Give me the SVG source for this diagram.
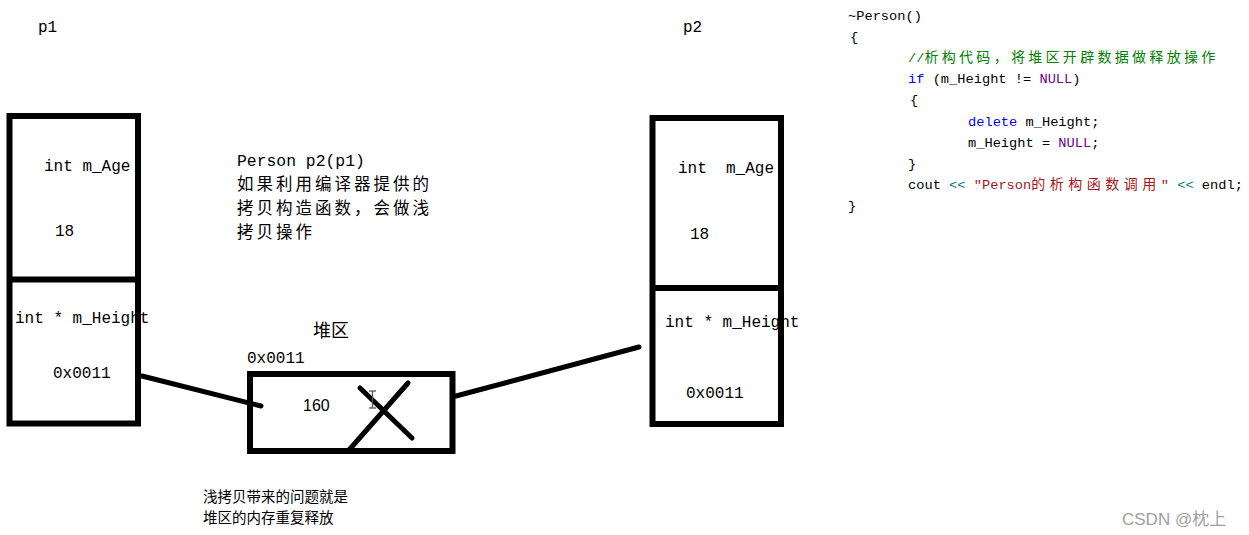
<svg xmlns="http://www.w3.org/2000/svg" width="1249" height="535" viewBox="0 0 1249 535">
<style>
.box{fill:none;stroke:#000;stroke-width:6}
.ln{stroke:#000;stroke-width:5;stroke-linecap:round;fill:none}
.mono{font-family:"Liberation Mono","DejaVu Sans Mono",monospace;font-size:16px;fill:#000;white-space:pre}
.cjk{font-family:"Noto Sans CJK SC",sans-serif;fill:#000}
.note{font-size:16.5px;letter-spacing:3px}
.code{font-family:"Liberation Mono","Noto Sans CJK SC",monospace;font-size:13.7px;fill:#000}
.cc{font-family:"Noto Sans CJK SC",sans-serif;font-size:14px;letter-spacing:3.3px}
.kw{fill:#0000ff}.nul{fill:#6f008a}.cm{fill:#008000}.op{fill:#008080}.str{fill:#a31515}
</style>
<rect width="1249" height="535" fill="#fff"/>
<g id="p1">
<text class="mono" x="38" y="32">p1</text>
<rect class="box" x="9.5" y="116" width="128.5" height="307.5"/>
<line class="box" x1="9.5" y1="279.5" x2="138" y2="279.5"/>
<text class="mono" x="44" y="171">int m_Age</text>
<text class="mono" x="55" y="236">18</text>
<text class="mono" x="15" y="323">int * m_Height</text>
<text class="mono" x="53" y="378">0x0011</text>
</g>
<g id="p2">
<text class="mono" x="683" y="32">p2</text>
<rect class="box" x="652.5" y="118" width="128.5" height="306"/>
<line class="box" x1="652.5" y1="288" x2="781" y2="288"/>
<text class="mono" x="678" y="173">int  m_Age</text>
<text class="mono" x="690" y="239">18</text>
<text class="mono" x="665" y="327">int * m_Height</text>
<text class="mono" x="686" y="398">0x0011</text>
</g>
<g id="note">
<text class="mono" x="237" y="166" style="font-size:16.4px">Person p2(p1)</text>
<text class="cjk note" x="237" y="190">如果利用编译器提供的</text>
<text class="cjk note" x="237" y="214">拷贝构造函数，会做浅</text>
<text class="cjk note" x="237" y="238">拷贝操作</text>
</g>
<g id="heap">
<text class="cjk" x="313" y="337" font-size="18">堆区</text>
<text class="mono" x="247" y="363">0x0011</text>
<rect class="box" x="250" y="374" width="202.5" height="77"/>
<text x="303" y="411" font-family="Liberation Sans,sans-serif" font-size="16">160</text>
<line class="ln" x1="360" y1="388" x2="412" y2="438"/>
<line class="ln" x1="408" y1="383" x2="349" y2="450"/>
<g stroke="#555" stroke-width="1.3" fill="none">
<line x1="372.5" y1="391" x2="372.5" y2="408"/>
<line x1="369" y1="391" x2="376" y2="391"/>
<line x1="369" y1="408" x2="376" y2="408"/>
</g>
</g>
<g id="connectors">
<line class="ln" x1="142" y1="376" x2="261" y2="406"/>
<line class="ln" x1="456" y1="396" x2="639" y2="347"/>
</g>
<g id="code">
<text class="code" x="848" y="20">~Person()</text>
<text class="code" x="850" y="41">{</text>
<text class="code cm" x="908" y="62">//<tspan class="cc">析构代码，将堆区开辟数据做释放操作</tspan></text>
<text class="code" x="908" y="83"><tspan class="kw">if</tspan> (m_Height != <tspan class="nul">NULL</tspan>)</text>
<text class="code" x="910" y="104">{</text>
<text class="code" x="968" y="126"><tspan class="kw">delete</tspan> m_Height;</text>
<text class="code" x="968" y="147">m_Height = <tspan class="nul">NULL</tspan>;</text>
<text class="code" x="908" y="168">}</text>
<text class="code" x="908" y="189">cout <tspan class="op">&lt;&lt;</tspan> <tspan class="str">"Person<tspan class="cc" style="letter-spacing:4.5px">的析构函数调用</tspan>"</tspan> <tspan class="op">&lt;&lt;</tspan> endl;</text>
<text class="code" x="848" y="210">}</text>
</g>
<g id="footer">
<text class="cjk" x="203" y="502" font-size="14.5">浅拷贝带来的问题就是</text>
<text class="cjk" x="203" y="523" font-size="14.5">堆区的内存重复释放</text>
<text x="1122" y="525" font-family="Liberation Sans,'Noto Sans CJK SC',sans-serif" font-size="17" fill="#a0a0a0">CSDN @枕上</text>
</g>
</svg>
